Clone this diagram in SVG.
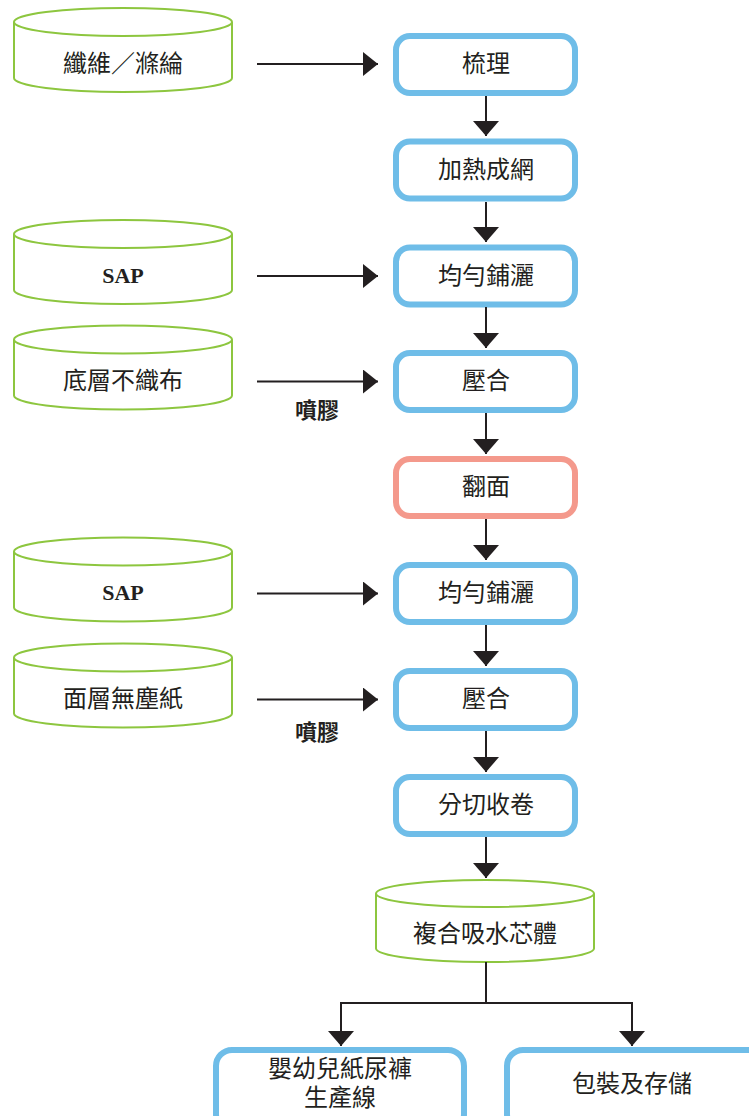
<svg xmlns="http://www.w3.org/2000/svg" width="749" height="1116" viewBox="0 0 749 1116">
  <defs>
    <style>
      .step { fill: #ffffff; stroke: #6fbde8; stroke-width: 6; }
      .flip { fill: #ffffff; stroke: #f4998c; stroke-width: 6; }
      .drum { fill: #ffffff; stroke: #8dc63f; stroke-width: 2; }
      .lbl { font-family: "Noto Sans CJK TC", "Noto Sans CJK SC", sans-serif; font-size: 24px; fill: #231f20; text-anchor: middle; dominant-baseline: central; }
      .sap { font-family: "Liberation Serif", "Noto Sans CJK TC", serif; font-size: 22px; font-weight: bold; fill: #231f20; text-anchor: middle; dominant-baseline: central; }
      .glue { font-family: "Noto Sans CJK TC", "Noto Sans CJK SC", sans-serif; font-size: 22px; font-weight: bold; fill: #231f20; text-anchor: middle; dominant-baseline: central; }
      .wire { fill: none; stroke: #231f20; stroke-width: 2; }
      .tip { fill: #231f20; }
    </style>
    <marker id="arrowR" markerUnits="userSpaceOnUse" markerWidth="16" markerHeight="26" refX="15" refY="12" orient="auto">
      <path class="tip" d="M0,0 L15,12 L0,24 Z"/>
    </marker>
    <marker id="arrowD" markerUnits="userSpaceOnUse" markerWidth="16" markerHeight="28" refX="15" refY="13" orient="auto">
      <path class="tip" d="M0,0 L15,13 L0,26 Z"/>
    </marker>
  </defs>

  <!-- material inputs (drums) -->
  <g id="fiber">
    <path class="drum" d="M14,22 V78 A109,14 0 0 0 232,78 V22"/>
    <ellipse class="drum" cx="123" cy="22" rx="109" ry="14"/>
    <text class="lbl" x="123" y="61">纖維／滌綸</text>
  </g>
  <g id="sap1">
    <path class="drum" d="M14,234 V290 A109,14 0 0 0 232,290 V234"/>
    <ellipse class="drum" cx="123" cy="234" rx="109" ry="14"/>
    <text class="sap" x="123" y="275">SAP</text>
  </g>
  <g id="bottom-layer">
    <path class="drum" d="M14,339.5 V395.5 A109,14 0 0 0 232,395.5 V339.5"/>
    <ellipse class="drum" cx="123" cy="339.5" rx="109" ry="14"/>
    <text class="lbl" x="123" y="378.5">底層不織布</text>
  </g>
  <g id="sap2">
    <path class="drum" d="M14,551.5 V607.5 A109,14 0 0 0 232,607.5 V551.5"/>
    <ellipse class="drum" cx="123" cy="551.5" rx="109" ry="14"/>
    <text class="sap" x="123" y="592.5">SAP</text>
  </g>
  <g id="top-layer">
    <path class="drum" d="M14,657.5 V713.5 A109,14 0 0 0 232,713.5 V657.5"/>
    <ellipse class="drum" cx="123" cy="657.5" rx="109" ry="14"/>
    <text class="lbl" x="123" y="696.5">面層無塵紙</text>
  </g>

  <!-- process steps -->
  <g id="carding">
    <rect class="step" x="396" y="36" width="179" height="57" rx="14"/>
    <text class="lbl" x="486" y="61.5">梳理</text>
  </g>
  <g id="thermal-web">
    <rect class="step" x="396" y="141.5" width="179" height="57" rx="14"/>
    <text class="lbl" x="486" y="167">加熱成網</text>
  </g>
  <g id="spread1">
    <rect class="step" x="396" y="247.5" width="179" height="57" rx="14"/>
    <text class="lbl" x="486" y="273">均勻鋪灑</text>
  </g>
  <g id="press1">
    <rect class="step" x="396" y="353" width="179" height="57" rx="14"/>
    <text class="lbl" x="486" y="378.5">壓合</text>
  </g>
  <g id="flip">
    <rect class="flip" x="396" y="459" width="179" height="57" rx="14"/>
    <text class="lbl" x="486" y="484.5">翻面</text>
  </g>
  <g id="spread2">
    <rect class="step" x="396" y="565" width="179" height="57" rx="14"/>
    <text class="lbl" x="486" y="590.5">均勻鋪灑</text>
  </g>
  <g id="press2">
    <rect class="step" x="396" y="671" width="179" height="57" rx="14"/>
    <text class="lbl" x="486" y="696.5">壓合</text>
  </g>
  <g id="slit-wind">
    <rect class="step" x="396" y="777" width="179" height="57" rx="14"/>
    <text class="lbl" x="486" y="802.5">分切收卷</text>
  </g>

  <!-- composite core -->
  <g id="core">
    <path class="drum" d="M376,893.5 V948.5 A109,13.5 0 0 0 594,948.5 V893.5"/>
    <ellipse class="drum" cx="485" cy="893.5" rx="109" ry="13.5"/>
    <text class="lbl" x="485" y="931">複合吸水芯體</text>
  </g>

  <!-- outputs -->
  <g id="diaper-line">
    <rect class="step" x="216" y="1050" width="248" height="80" rx="16"/>
    <text class="lbl" x="340" y="1066"><tspan x="340" y="1066">嬰幼兒紙尿褲</tspan><tspan x="340" y="1095">生產線</tspan></text>
  </g>
  <g id="packing">
    <rect class="step" x="507" y="1050" width="260" height="80" rx="16"/>
    <text class="lbl" x="632" y="1081">包裝及存儲</text>
  </g>

  <!-- connectors -->
  <g id="connectors">
    <line class="wire" x1="257" y1="64" x2="378" y2="64" marker-end="url(#arrowR)"/>
    <line class="wire" x1="257" y1="276" x2="378" y2="276" marker-end="url(#arrowR)"/>
    <line class="wire" x1="257" y1="381.5" x2="378" y2="381.5" marker-end="url(#arrowR)"/>
    <line class="wire" x1="257" y1="593.5" x2="378" y2="593.5" marker-end="url(#arrowR)"/>
    <line class="wire" x1="257" y1="699.5" x2="378" y2="699.5" marker-end="url(#arrowR)"/>

    <line class="wire" x1="486" y1="96" x2="486" y2="136" marker-end="url(#arrowD)"/>
    <line class="wire" x1="486" y1="202" x2="486" y2="242" marker-end="url(#arrowD)"/>
    <line class="wire" x1="486" y1="307" x2="486" y2="348" marker-end="url(#arrowD)"/>
    <line class="wire" x1="486" y1="413" x2="486" y2="454" marker-end="url(#arrowD)"/>
    <line class="wire" x1="486" y1="519" x2="486" y2="560" marker-end="url(#arrowD)"/>
    <line class="wire" x1="486" y1="625" x2="486" y2="666" marker-end="url(#arrowD)"/>
    <line class="wire" x1="486" y1="731" x2="486" y2="772" marker-end="url(#arrowD)"/>
    <line class="wire" x1="486" y1="837" x2="486" y2="878" marker-end="url(#arrowD)"/>

    <!-- split to the two outputs -->
    <polyline class="wire" points="486,962 486,1003"/>
    <polyline class="wire" points="341,1003 632,1003"/>
    <line class="wire" x1="341" y1="1002" x2="341" y2="1046" marker-end="url(#arrowD)"/>
    <line class="wire" x1="632" y1="1002" x2="632" y2="1046" marker-end="url(#arrowD)"/>

    <text class="glue" x="317" y="408">噴膠</text>
    <text class="glue" x="317" y="730">噴膠</text>
  </g>
</svg>
